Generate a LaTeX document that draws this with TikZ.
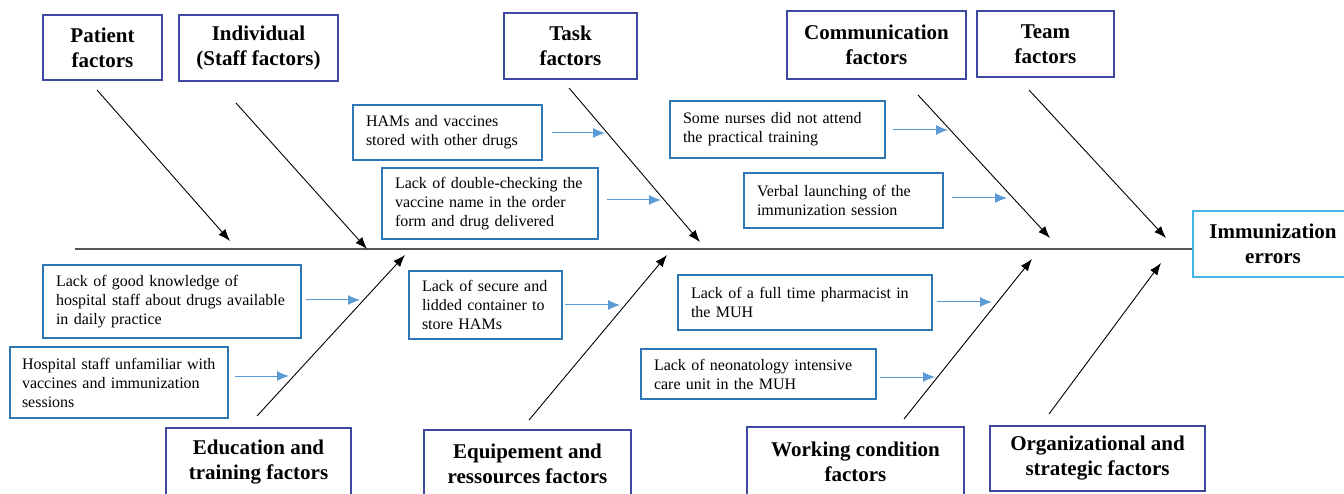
\documentclass[tikz,border=0pt]{standalone}
\usepackage{fontspec}
\setmainfont{Liberation Serif}
\usetikzlibrary{arrows.meta}

\definecolor{catblue}{RGB}{63,72,160}
\definecolor{subblue}{RGB}{46,117,182}
\definecolor{arrblue}{RGB}{91,155,213}
\definecolor{effblue}{RGB}{65,182,230}
\definecolor{spinegray}{RGB}{85,85,85}

\begin{document}
\begin{tikzpicture}
    [
        x=1pt, y=-1pt,
        category/.style={rectangle, draw=catblue, line width=1.5pt, align=center,
            font=\fontsize{21}{25}\selectfont\bfseries, inner sep=0pt,},
        effect/.style={category, draw=effblue,},
        cause/.style={rectangle, draw=subblue, line width=1.4pt, align=left,
            font=\fontsize{16}{19}\selectfont, inner xsep=13pt, inner ysep=0pt,},
        bone/.style={-{Latex[length=12pt,width=9pt]}, line width=0.9pt,},
        hint/.style={-{Latex[length=12pt,width=10pt]}, draw=arrblue, line width=1pt,},
        spine/.style={draw=spinegray, line width=2pt,},
    ]

    \useasboundingbox (0,0) rectangle (1344,494);

    % categories, top row
    \node (patient) at (102.5,47.5) [category, minimum width=119, minimum height=65] {Patient\\factors};
    \node (staff)   at (258.5,48)   [category, minimum width=159, minimum height=66] {Individual\\(Staff factors)};
    \node (task)    at (570.5,46)   [category, minimum width=133, minimum height=66] {Task\\factors};
    \node (comm)    at (876.5,45)   [category, minimum width=179, minimum height=68] {Communication\\factors};
    \node (team)    at (1045.5,44)  [category, minimum width=137, minimum height=66] {Team\\factors};

    % categories, bottom row
    \node (educ)    at (258.5,462.5) [category, minimum width=185, minimum height=69] {Education and\\training factors};
    \node (equip)   at (527.5,463.5) [category, minimum width=207, minimum height=67] {Equipement and\\ressources factors};
    \node (work)    at (855.5,462)   [category, minimum width=217, minimum height=70] {Working condition\\factors};
    \node (orga)    at (1097.5,458.5) [category, minimum width=215, minimum height=65] {Organizational and\\strategic factors};

    % effect and spine
    \node (errors)  at (1273,244) [effect, minimum width=160, minimum height=66] {Immunization\\errors};
    \coordinate (tail) at (75,249);
    \draw [spine] (tail) -- (tail -| errors.west);

    % causes
    \node (hams)    at (447.5,132.5) [cause, text width=163, minimum height=55] {HAMs and vaccines\\stored with other drugs};
    \node (dblchk)  at (490,203.5)   [cause, text width=190, minimum height=71] {Lack of double-checking the\\vaccine name in the order\\form and drug delivered};
    \node (nurses)  at (777.5,129.5) [cause, text width=189, minimum height=57] {Some nurses did not attend\\the practical training};
    \node (verbal)  at (843.5,200.5) [cause, text width=173, minimum height=55] {Verbal launching of the\\immunization session};
    \node (knowl)   at (172,301.5)   [cause, text width=232, minimum height=73] {Lack of good knowledge of\\hospital staff about drugs available\\in daily practice};
    \node (unfam)   at (119,382.5)   [cause, text width=194, minimum height=71, inner xsep=12pt] {Hospital staff unfamiliar with\\vaccines and immunization\\sessions};
    \node (secure)  at (485.5,305)   [cause, text width=127, minimum height=68] {Lack of secure and\\lidded container to\\store HAMs};
    \node (pharm)   at (805,302.5)   [cause, text width=228, minimum height=55] {Lack of a full time pharmacist in\\the MUH};
    \node (neonat)  at (758.5,374)   [cause, text width=209, minimum height=50] {Lack of neonatology intensive\\care unit in the MUH};

    % bone ends
    \coordinate (patient-a) at (97,90);   \coordinate (patient-b) at (230,241);
    \coordinate (staff-a)   at (236,103); \coordinate (staff-b)   at (367,249);
    \coordinate (task-a)    at (569,88);  \coordinate (task-b)    at (700,242);
    \coordinate (comm-a)    at (918,95);  \coordinate (comm-b)    at (1050,238);
    \coordinate (team-a)    at (1029,90); \coordinate (team-b)    at (1166,238);
    \coordinate (educ-a)    at (257,416); \coordinate (educ-b)    at (405,255);
    \coordinate (equip-a)   at (529,420); \coordinate (equip-b)   at (667,255);
    \coordinate (work-a)    at (904,419); \coordinate (work-b)    at (1032,259);
    \coordinate (orga-a)    at (1049,414); \coordinate (orga-b)   at (1161,263);

    \draw [bone] (patient-a) -- (patient-b);
    \draw [bone] (staff-a) -- (staff-b);
    \draw [bone] (task-a) -- (task-b);
    \draw [bone] (comm-a) -- (comm-b);
    \draw [bone] (team-a) -- (team-b);
    \draw [bone] (educ-a) -- (educ-b);
    \draw [bone] (equip-a) -- (equip-b);
    \draw [bone] (work-a) -- (work-b);
    \draw [bone] (orga-a) -- (orga-b);

    % cause pointers
    \coordinate (hams-a)   at (552,133); \coordinate (hams-b)   at (605,133);
    \coordinate (dblchk-a) at (607,200); \coordinate (dblchk-b) at (661,200);
    \coordinate (nurses-a) at (893,130); \coordinate (nurses-b) at (948,130);
    \coordinate (verbal-a) at (952,198); \coordinate (verbal-b) at (1007,198);
    \coordinate (knowl-a)  at (306,300); \coordinate (knowl-b)  at (360,300);
    \coordinate (unfam-a)  at (235,376); \coordinate (unfam-b)  at (289,376);
    \coordinate (secure-a) at (565,305); \coordinate (secure-b) at (620,305);
    \coordinate (pharm-a)  at (937,302); \coordinate (pharm-b)  at (992,302);
    \coordinate (neonat-a) at (880,377); \coordinate (neonat-b) at (935,377);

    \draw [hint] (hams-a) -- (hams-b);
    \draw [hint] (dblchk-a) -- (dblchk-b);
    \draw [hint] (nurses-a) -- (nurses-b);
    \draw [hint] (verbal-a) -- (verbal-b);
    \draw [hint] (knowl-a) -- (knowl-b);
    \draw [hint] (unfam-a) -- (unfam-b);
    \draw [hint] (secure-a) -- (secure-b);
    \draw [hint] (pharm-a) -- (pharm-b);
    \draw [hint] (neonat-a) -- (neonat-b);

\end{tikzpicture}
\end{document}
